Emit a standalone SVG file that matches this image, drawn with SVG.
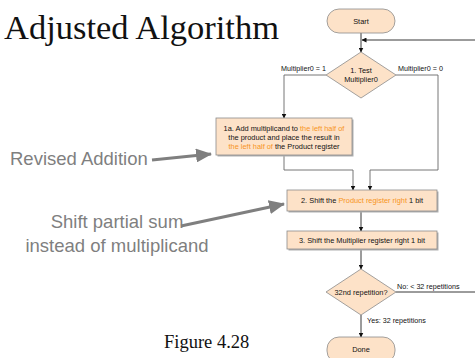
<svg xmlns="http://www.w3.org/2000/svg" width="475" height="358" viewBox="0 0 475 358">
  <style>
    .box { fill: #fde2c8; stroke: #8c8c8c; stroke-width: 0.8; }
    .shadow { fill: #b0b0b0; }
    .t { font-family: "Liberation Sans", Arial, sans-serif; font-size: 7.4px; fill: #111; }
    .lbl { font-family: "Liberation Sans", Arial, sans-serif; font-size: 7.2px; fill: #111; }
    .hi { fill: #f7941d; }
    .con { fill: none; stroke: #222; stroke-width: 0.9; }
    .side { fill: none; stroke: #666; stroke-width: 0.9; }
    .note { font-family: "Liberation Sans", Arial, sans-serif; font-size: 18.5px; fill: #7f7f7f; }
    .serif { font-family: "Liberation Serif", "Times New Roman", serif; fill: #111; }
    .callout { fill: none; stroke: #7f7f7f; stroke-width: 3; }
  </style>
  <defs>
    <marker id="arr" markerWidth="5" markerHeight="5" refX="4.5" refY="2.5" orient="auto" markerUnits="userSpaceOnUse">
      <path d="M0,0 L5,2.5 L0,5 z" fill="#111"/>
    </marker>
    <marker id="big" markerWidth="16" markerHeight="14" refX="15" refY="7" orient="auto" markerUnits="userSpaceOnUse">
      <path d="M0,0 L16,7 L0,14 z" fill="#7f7f7f"/>
    </marker>
  </defs>

  <!-- titles and notes -->
  <text class="serif" x="4" y="39" font-size="34.5">Adjusted Algorithm</text>
  <text class="serif" x="164" y="348" font-size="18.5">Figure 4.28</text>
  <text class="note" x="10" y="165">Revised Addition</text>
  <text class="note" x="117" y="228" text-anchor="middle">Shift partial sum</text>
  <text class="note" x="117" y="252" text-anchor="middle">instead of multiplicand</text>

  <!-- connectors -->
  <g id="connectors">
    <path class="con" d="M361,33 V52" marker-end="url(#arr)"/>
    <path class="con" d="M475,40 H362" marker-end="url(#arr)"/>
    <path class="side" d="M326,75 H284 V118" marker-end="url(#arr)"/>
    <path class="side" d="M396,75 H438 V170 H370 V190" marker-end="url(#arr)"/>
    <path class="side" d="M284,155 V170 H353 V190" marker-end="url(#arr)"/>
    <path class="con" d="M361,211 V231" marker-end="url(#arr)"/>
    <path class="con" d="M361,249 V269" marker-end="url(#arr)"/>
    <path class="con" d="M396,292 H475"/>
    <path class="con" d="M361,315 V337" marker-end="url(#arr)"/>
    <path class="callout" d="M152,160 L211,154" marker-end="url(#big)"/>
    <path class="callout" d="M181,226 L284,204" marker-end="url(#big)"/>
    <text class="lbl" x="326" y="71" text-anchor="end">Multiplier0 = 1</text>
    <text class="lbl" x="398" y="71">Multiplier0 = 0</text>
    <text class="lbl" x="397" y="289">No:  &lt; 32 repetitions</text>
    <text class="lbl" x="367" y="323">Yes:  32 repetitions</text>
  </g>

  <g id="start">
    <rect class="box" x="327" y="9" width="68" height="24" rx="12"/>
    <text class="t" x="361" y="23.5" text-anchor="middle">Start</text>
  </g>

  <g id="test">
    <path class="box" d="M361,52 L396,75 L361,98 L326,75 z"/>
    <text class="t" x="361" y="73" text-anchor="middle">1. Test</text>
    <text class="t" x="361" y="82" text-anchor="middle">Multiplier0</text>
  </g>

  <g id="add">
    <rect class="shadow" x="217.5" y="119.5" width="136" height="37"/>
    <rect class="box" x="216" y="118" width="136" height="37"/>
    <text class="t" x="284" y="131" text-anchor="middle">1a. Add multiplicand to <tspan class="hi">the left half of</tspan></text>
    <text class="t" x="284" y="140" text-anchor="middle">the product and place the result in</text>
    <text class="t" x="284" y="149" text-anchor="middle"><tspan class="hi">the left half of</tspan> the Product register</text>
  </g>

  <g id="shift-product">
    <rect class="shadow" x="288.5" y="191.5" width="150" height="21"/>
    <rect class="box" x="287" y="190" width="150" height="21"/>
    <text class="t" x="362" y="203" text-anchor="middle">2. Shift the <tspan class="hi">Product register right</tspan> 1 bit</text>
  </g>

  <g id="shift-multiplier">
    <rect class="shadow" x="288.5" y="232.5" width="150" height="18"/>
    <rect class="box" x="287" y="231" width="150" height="18"/>
    <text class="t" x="362" y="243" text-anchor="middle">3. Shift the Multiplier register right 1 bit</text>
  </g>

  <g id="repeat">
    <path class="box" d="M361,269 L396,292 L361,315 L326,292 z"/>
    <text class="t" x="361" y="294.5" text-anchor="middle">32nd repetition?</text>
  </g>

  <g id="done">
    <rect class="box" x="327" y="337" width="68" height="26" rx="12"/>
    <text class="t" x="361" y="351.5" text-anchor="middle">Done</text>
  </g>
</svg>
